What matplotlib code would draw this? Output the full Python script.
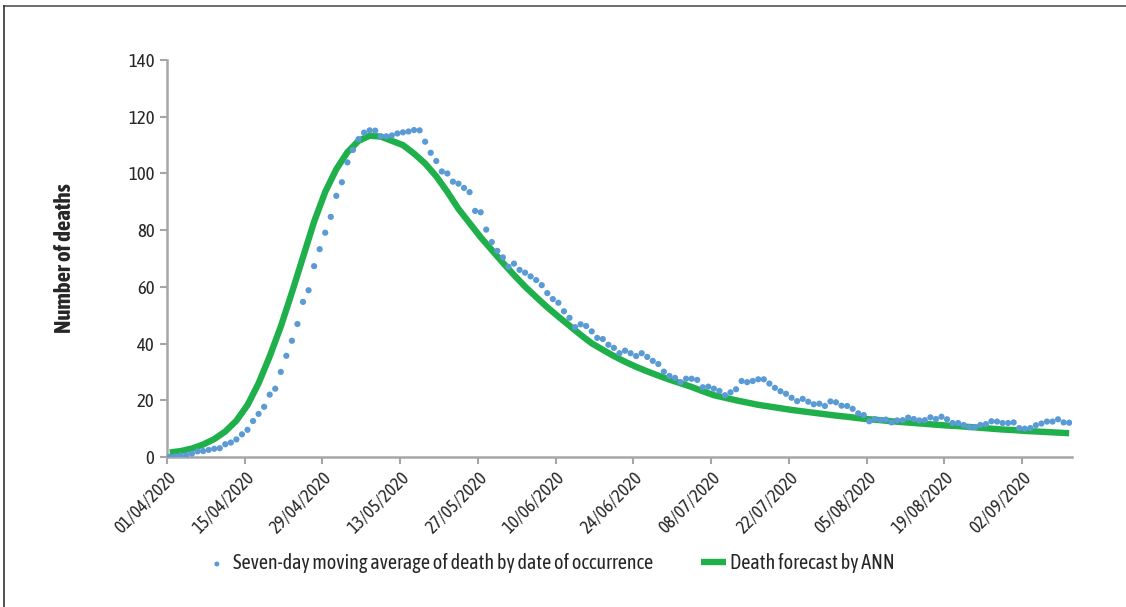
import numpy as np
import matplotlib.pyplot as plt
from matplotlib.lines import Line2D

plt.rcParams['font.family'] = ['Asap Condensed', 'DejaVu Sans']

# seven-day moving average of deaths, one value per day from 01/04/2020
moving_avg = [
    0.1, 0.15, 0.5, 0.6, 1.2, 2.0, 2.1, 2.5, 2.9, 3.1,
    4.5, 5.1, 6.2, 8.0, 9.6, 12.7, 15.2, 17.7, 22.0, 24.1,
    30.0, 35.7, 41.0, 46.9, 54.7, 58.8, 67.3, 73.3, 79.1, 84.7,
    92.1, 96.9, 103.9, 108.3, 112.1, 114.4, 115.2, 115.1, 113.1, 113.1,
    113.4, 114.1, 114.5, 114.8, 115.3, 115.2, 111.2, 107.3, 104.4, 100.7,
    100.0, 97.1, 96.4, 94.9, 93.4, 86.8, 86.3, 80.2, 75.8, 72.7,
    70.4, 67.1, 68.2, 66.0, 65.0, 63.7, 62.4, 60.6, 57.8, 55.7,
    54.4, 51.4, 49.1, 45.8, 46.8, 46.2, 44.3, 42.0, 41.6, 39.6,
    38.5, 36.6, 37.5, 36.6, 35.6, 36.6, 35.3, 33.9, 32.8, 30.1,
    28.6, 27.9, 26.4, 27.6, 27.6, 27.2, 24.6, 24.8, 24.1, 23.3,
    21.8, 22.8, 23.9, 26.8, 26.4, 26.8, 27.4, 27.4, 25.9, 24.4,
    23.2, 22.3, 20.9, 19.7, 20.5, 19.5, 18.6, 18.8, 18.0, 19.6,
    19.3, 18.1, 18.0, 17.0, 15.4, 14.8, 12.6, 13.4, 13.0, 13.2,
    12.2, 12.9, 13.0, 13.9, 13.4, 12.9, 13.0, 14.0, 13.4, 14.2,
    13.3, 12.0, 12.0, 11.3, 10.5, 10.6, 11.3, 11.6, 12.6, 12.5,
    12.0, 12.0, 12.2, 10.2, 10.0, 10.2, 11.2, 11.8, 12.5, 12.5,
    13.3, 12.2, 12.1,
]

# ANN forecast, every second day
forecast_days = list(range(0, 163, 2))
forecast = [
    1.6, 2.1, 3.0, 4.4, 6.3, 9.0, 12.8, 18.3, 26.0, 35.5,
    46.0, 58.0, 70.5, 83.0, 93.5, 101.5, 107.5, 111.5, 113.3, 113.0,
    111.5, 110.0, 107.0, 103.5, 99.0, 93.5, 87.5, 82.5, 77.5, 73.0,
    68.5, 64.2, 60.1, 56.4, 52.8, 49.5, 46.3, 43.1, 40.1, 37.8,
    35.6, 33.6, 31.8, 30.2, 28.7, 27.3, 26.0, 24.7, 23.2, 21.8,
    20.9, 20.0, 19.2, 18.4, 17.8, 17.2, 16.6, 16.1, 15.6, 15.1,
    14.6, 14.2, 13.7, 13.3, 13.0, 12.6, 12.3, 12.0, 11.7, 11.4,
    11.1, 10.9, 10.6, 10.3, 10.0, 9.7, 9.5, 9.2, 9.0, 8.8,
    8.6, 8.4,
]

tick_labels = ['01/04/2020', '15/04/2020', '29/04/2020', '13/05/2020',
               '27/05/2020', '10/06/2020', '24/06/2020', '08/07/2020',
               '22/07/2020', '05/08/2020', '19/08/2020', '02/09/2020']

blue = '#5b9bd5'
green = '#1fb04b'
axis_grey = '#a6a6a6'
text_col = '#262626'

fig = plt.figure(figsize=(11.26, 6.07), dpi=100)
ax = fig.add_axes([0.1483, 0.2471, 0.8037, 0.654])

days = np.arange(len(moving_avg)) + 0.5
ax.plot(np.array(forecast_days) + 0.5, forecast, color=green, lw=4.6,
        solid_capstyle='butt', solid_joinstyle='round', zorder=2,
        label='Death forecast by ANN')
ax.scatter(days, moving_avg, s=20, color=blue, edgecolors='none', zorder=3,
           label='Seven-day moving average of death by date of occurrence')

ax.set_xlim(0, 163)
ax.set_ylim(0, 140)
ax.set_yticks(range(0, 141, 20))
ax.set_xticks(range(0, 155, 14))
ax.set_xticklabels(tick_labels, rotation=45, ha='right', rotation_mode='anchor')

for side in ['top', 'right']:
    ax.spines[side].set_visible(False)
for side in ['left', 'bottom']:
    ax.spines[side].set_color(axis_grey)
    ax.spines[side].set_linewidth(1.8)
ax.tick_params(axis='both', colors=axis_grey, width=1.5, length=5,
               labelcolor=text_col)
ax.tick_params(axis='y', labelsize=13.5, pad=4)
ax.tick_params(axis='x', labelsize=12.8, pad=3)

ax.set_ylabel('Number of deaths', fontsize=16.5, fontweight='bold',
              color=text_col)
ax.yaxis.set_label_coords(-0.100, 0.5)

handles, labels = ax.get_legend_handles_labels()
leg = fig.legend(handles[::-1], labels[::-1], loc='center', ncol=2,
                 bbox_to_anchor=(0.488, 0.072), frameon=False, fontsize=14.5,
                 handlelength=1.2, handletextpad=0.2, columnspacing=2.4,
                 markerscale=0.8)
for t in leg.get_texts():
    t.set_color(text_col)

# thin frame on the top and left edges of the figure
fig.add_artist(Line2D([0.0036, 1.0], [0.990, 0.990], color='#555555', lw=1.2,
                      transform=fig.transFigure))
fig.add_artist(Line2D([0.0036, 0.0036], [0.0, 0.990], color='#333333', lw=1.2,
                      transform=fig.transFigure))

fig.savefig('out.png', dpi=100)
